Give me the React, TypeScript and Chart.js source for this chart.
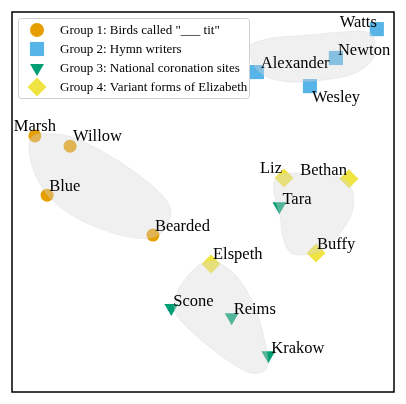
import React, { useEffect, useRef } from "react";
import { Chart, registerables } from "chart.js";

Chart.register(...registerables);

// ---- data ----
const groupNames = [
  'Group 1: Birds called "___ tit"',
  "Group 2: Hymn writers",
  "Group 3: National coronation sites",
  "Group 4: Variant forms of Elizabeth",
];

const g1Labels = ["Marsh", "Willow", "Blue", "Bearded"];
const g1X = [6.0, 15.2, 9.2, 36.9];
const g1Y = [67.4, 64.7, 51.8, 41.3];

const g2Labels = ["Alexander", "Watts", "Newton", "Wesley"];
const g2X = [64.1, 95.5, 84.8, 78.0];
const g2Y = [84.2, 95.5, 87.9, 80.5];

const g3Labels = ["Scone", "Reims", "Krakow", "Tara"];
const g3X = [41.7, 57.5, 67.1, 70.0];
const g3Y = [22.1, 19.7, 9.7, 48.9];

const g4Labels = ["Liz", "Bethan", "Buffy", "Elspeth"];
const g4X = [71.2, 88.2, 79.6, 52.1];
const g4Y = [56.3, 56.1, 36.6, 33.7];

// cluster outlines (hull vertices, data coordinates)
const hullAX = [5.5, 11.3, 17.8, 28.3, 37.4, 41.4, 40.3, 36.1, 28.3, 17.8, 10.5, 6.3, 4.5];
const hullAY = [67.4, 67.9, 66.3, 60.5, 53.7, 48.4, 43.2, 40.5, 41.3, 45.3, 50.5, 56.8, 63.2];
const hullBX = [62.3, 68.3, 77.2, 85.9, 93.7, 95.0, 93.7, 88.5, 81.4, 72.8, 66.8, 63.6, 62.3];
const hullBY = [91.3, 93.2, 93.9, 94.7, 94.5, 90.0, 86.6, 83.4, 82.1, 81.6, 82.9, 85.5, 89.2];
const hullCX = [68.8, 72.8, 82.5, 87.2, 89.3, 89.0, 85.9, 81.4, 76.2, 72.8, 70.9, 70.2, 68.8];
const hullCY = [55.8, 57.6, 57.1, 55.8, 52.4, 47.1, 41.8, 37.4, 36.1, 36.8, 40.8, 46.1, 51.3];
const hullDX = [50.0, 53.7, 58.9, 63.1, 65.7, 67.0, 64.9, 60.5, 53.7, 46.6, 42.7, 43.2, 45.8, 48.4];
const hullDY = [33.9, 34.2, 30.3, 23.4, 15.5, 7.6, 5.0, 5.8, 10.3, 16.3, 21.1, 26.1, 30.3, 32.9];

// ---- styles ----
const colors = ["#E69F00", "#56B4E9", "#009E73", "#F0E442"];
const pointStyles = ["circle", "rect", "triangle", "rectRot"];
const rotations = [0, 0, 180, 0];
const radii = [6.5, 10, 8, 9.5];

// label placement per point: [dx px, dy px, align]
const labelPlace: [number, number, CanvasTextAlign][][] = [
  [[0, -9, "center"], [3, -9, "left"], [2, -8, "left"], [2, -8, "left"]],
  [[4, -8, "left"], [0, -6, "right"], [2, -7, "left"], [2, 12, "left"]],
  [[2, -6, "left"], [2, -7, "left"], [3, -6, "left"], [3, -7, "left"]],
  [[-2, -9, "right"], [-2, -8, "right"], [1, -8, "left"], [2, -9, "left"]],
];

const SERIF = '"Liberation Serif", "Times New Roman", serif';

function zipXY(xs: number[], ys: number[]) {
  return xs.map((x, i) => ({ x, y: ys[i] }));
}

const groupLabels = [g1Labels, g2Labels, g3Labels, g4Labels];
const groupPoints = [zipXY(g1X, g1Y), zipXY(g2X, g2Y), zipXY(g3X, g3Y), zipXY(g4X, g4Y)];
const hulls = [zipXY(hullAX, hullAY), zipXY(hullBX, hullBY), zipXY(hullCX, hullCY), zipXY(hullDX, hullDY)];

function drawMarker(ctx: CanvasRenderingContext2D, style: string, r: number, rotDeg: number, x: number, y: number) {
  ctx.beginPath();
  let rad = (rotDeg * Math.PI) / 180;
  if (style === "circle") {
    ctx.arc(x, y, r, 0, Math.PI * 2);
  } else if (style === "rect") {
    const s = Math.SQRT1_2 * r;
    ctx.rect(x - s, y - s, 2 * s, 2 * s);
  } else if (style === "triangle") {
    for (let k = 0; k < 3; k++) {
      const px = x + Math.sin(rad) * r;
      const py = y - Math.cos(rad) * r;
      if (k === 0) ctx.moveTo(px, py);
      else ctx.lineTo(px, py);
      rad += (2 * Math.PI) / 3;
    }
  } else {
    ctx.moveTo(x, y - r);
    ctx.lineTo(x + r, y);
    ctx.lineTo(x, y + r);
    ctx.lineTo(x - r, y);
  }
  ctx.closePath();
  ctx.fill();
}

const overlayPlugin = {
  id: "overlay",
  afterDatasetsDraw(chart: any) {
    const ctx: CanvasRenderingContext2D = chart.ctx;
    const xs = chart.scales.x;
    const ys = chart.scales.y;
    const area = chart.chartArea;

    // hulls
    ctx.save();
    hulls.forEach((h) => {
      const p = h.map((d) => ({ x: xs.getPixelForValue(d.x), y: ys.getPixelForValue(d.y) }));
      const n = p.length;
      ctx.beginPath();
      ctx.moveTo(p[0].x, p[0].y);
      for (let i = 0; i < n; i++) {
        const p0 = p[(i - 1 + n) % n];
        const p1 = p[i];
        const p2 = p[(i + 1) % n];
        const p3 = p[(i + 2) % n];
        ctx.bezierCurveTo(
          p1.x + (p2.x - p0.x) / 6,
          p1.y + (p2.y - p0.y) / 6,
          p2.x - (p3.x - p1.x) / 6,
          p2.y - (p3.y - p1.y) / 6,
          p2.x,
          p2.y
        );
      }
      ctx.closePath();
      ctx.fillStyle = "rgba(215,215,215,0.38)";
      ctx.fill();
      ctx.strokeStyle = "rgba(200,200,200,0.25)";
      ctx.lineWidth = 1;
      ctx.stroke();
    });
    ctx.restore();

    // labels
    ctx.save();
    ctx.font = `16.5px ${SERIF}`;
    ctx.fillStyle = "#000";
    ctx.textBaseline = "middle";
    groupPoints.forEach((pts, gi) => {
      pts.forEach((d, i) => {
        const [dx, dy, align] = labelPlace[gi][i];
        ctx.textAlign = align;
        ctx.fillText(groupLabels[gi][i], xs.getPixelForValue(d.x) + dx, ys.getPixelForValue(d.y) + dy);
      });
    });
    ctx.restore();

    // legend
    ctx.save();
    const lx = area.left + 6;
    const ly = area.top + 6;
    const lw = 231;
    const lh = 80;
    ctx.beginPath();
    (ctx as any).roundRect(lx + 0.5, ly + 0.5, lw, lh, 3);
    ctx.fillStyle = "rgba(255,255,255,0.85)";
    ctx.fill();
    ctx.strokeStyle = "#d0d0d0";
    ctx.lineWidth = 1;
    ctx.stroke();
    ctx.font = `13px ${SERIF}`;
    ctx.textAlign = "left";
    ctx.textBaseline = "middle";
    const legendRadii = [7, 10, 8, 9.5];
    groupNames.forEach((name, gi) => {
      const cy = ly + 12 + gi * 19;
      const cx = lx + 19;
      ctx.fillStyle = colors[gi];
      drawMarker(ctx, pointStyles[gi], legendRadii[gi], rotations[gi], cx, cy);
      ctx.fillStyle = "#000";
      ctx.fillText(name, lx + 42, cy + 1);
    });
    ctx.restore();

    // frame
    ctx.save();
    ctx.strokeStyle = "#000";
    ctx.lineWidth = 1.5;
    ctx.strokeRect(area.left, area.top, area.right - area.left, area.bottom - area.top);
    ctx.restore();
  },
};

export default function App() {
  const ref = useRef<HTMLCanvasElement>(null);
  useEffect(() => {
    if (!ref.current) return;
    const chart = new Chart(ref.current, {
      type: "scatter",
      data: {
        datasets: groupPoints.map((pts, gi) => ({
          label: groupNames[gi],
          data: pts,
          pointStyle: pointStyles[gi] as any,
          rotation: rotations[gi],
          pointRadius: radii[gi],
          pointHoverRadius: radii[gi],
          backgroundColor: colors[gi],
          borderColor: colors[gi],
          borderWidth: 0,
        })),
      },
      options: {
        animation: false,
        responsive: true,
        maintainAspectRatio: false,
        layout: { autoPadding: false, padding: { left: 4, right: 4, top: 4, bottom: 4 } },
        scales: {
          x: { type: "linear", min: 0, max: 100, display: false },
          y: { type: "linear", min: 0, max: 100, display: false },
        },
        plugins: {
          legend: { display: false },
          tooltip: { enabled: false },
        },
        events: [],
      },
      plugins: [overlayPlugin],
    });
    return () => chart.destroy();
  }, []);
  return (
    <div style={{ width: 390, height: 388, position: "relative" }}>
      <canvas ref={ref} />
    </div>
  );
}
